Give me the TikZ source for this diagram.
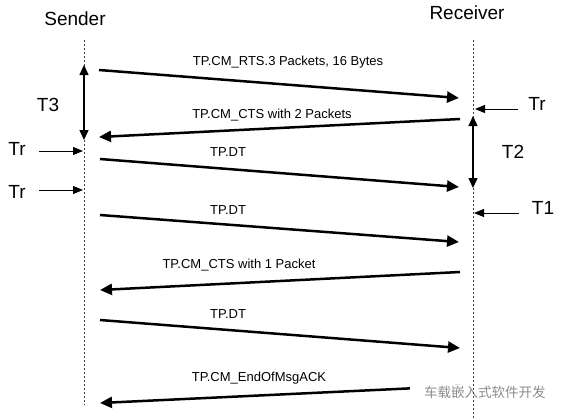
\documentclass[tikz,border=0pt]{standalone}
\usepackage{fontspec}
\setmainfont{Liberation Sans}
\newfontfamily\cjk{Noto Sans CJK SC}
\usetikzlibrary{arrows.meta}
\begin{document}
\begin{tikzpicture}[x=1pt,y=-1pt,
 msg/.style={line width=2.5pt,-{Triangle[length=12pt,width=11pt]}},
 tarrow/.style={line width=1pt,-{Triangle[length=10pt,width=8pt]}},
 dbl/.style={line width=1.3pt,{Triangle[length=10pt,width=9pt]}-{Triangle[length=10pt,width=9pt]}},
 life/.style={line width=0.8pt,dash pattern=on 2pt off 2pt,black!75},
 lbl/.style={font=\fontsize{13}{15}\selectfont,inner sep=0pt},
 big/.style={font=\fontsize{19}{22}\selectfont,inner sep=0pt},
 wm/.style={font=\cjk\fontsize{13.5}{15}\selectfont,text=black!45,fill=white,inner sep=1pt}]
\useasboundingbox (0,0) rectangle (563,418);
% headings
\node[big] (sender) at (75,19) {Sender};
\node[big] (receiver) at (467,13) {Receiver};
% lifeline coordinates
\coordinate (sTop) at (84,40);
\coordinate (sBot) at (84,405);
\coordinate (rTop) at (473,40);
\coordinate (rBot) at (473,418);
% message endpoints
\coordinate (m1a) at (99,70);  \coordinate (m1b) at (459,98);
\coordinate (m2a) at (460,119); \coordinate (m2b) at (99,137);
\coordinate (m3a) at (100,159); \coordinate (m3b) at (459,187);
\coordinate (m4a) at (100,215); \coordinate (m4b) at (459,242);
\coordinate (m5a) at (460,272); \coordinate (m5b) at (100,290);
\coordinate (m6a) at (100,320); \coordinate (m6b) at (460,348);
\coordinate (m7a) at (460,386); \coordinate (m7b) at (100,403);
\draw[msg] (m1a) -- (m1b);
\draw[msg] (m2a) -- (m2b);
\draw[msg] (m3a) -- (m3b);
\draw[msg] (m4a) -- (m4b);
\draw[msg] (m5a) -- (m5b);
\draw[msg] (m6a) -- (m6b);
\draw[msg] (m7a) -- (m7b);
\node[lbl] (l1) at (288,62) {TP.CM\_RTS.3 Packets, 16 Bytes};
\node[lbl] (l2) at (272,115) {TP.CM\_CTS with 2 Packets};
\node[lbl] (l3) at (228,152) {TP.DT};
\node[lbl] (l4) at (228,210) {TP.DT};
\node[lbl] (l5) at (239,265) {TP.CM\_CTS with 1 Packet};
\node[lbl] (l6) at (228,314) {TP.DT};
\node[lbl] (l7) at (259,378) {TP.CM\_EndOfMsgACK};
% watermark
\node[wm] (wmark) at (478,392) {\phantom{车}车载嵌入式软件开发};
% lifelines
\draw[life] (sTop) -- (sBot);
\draw[life] (rTop) -- (rBot);
% timers
\coordinate (t3a) at (84,65); \coordinate (t3b) at (84,140);
\draw[dbl] (t3a) -- (t3b);
\node[big] (T3) at (48,105) {T3};
\coordinate (t2a) at (473,116); \coordinate (t2b) at (473,188);
\draw[dbl] (t2a) -- (t2b);
\node[big] (T2) at (513,152) {T2};
\coordinate (tr1a) at (518,109); \coordinate (tr1b) at (475,109);
\draw[tarrow] (tr1a) -- (tr1b);
\node[big] (Tr1) at (537,104) {Tr};
\coordinate (tr2a) at (39,151); \coordinate (tr2b) at (83,151);
\draw[tarrow] (tr2a) -- (tr2b);
\node[big] (Tr2) at (17,149) {Tr};
\coordinate (tr3a) at (39,190); \coordinate (tr3b) at (83,190);
\draw[tarrow] (tr3a) -- (tr3b);
\node[big] (Tr3) at (17,192) {Tr};
\coordinate (t1a) at (519,213); \coordinate (t1b) at (474,213);
\draw[tarrow] (t1a) -- (t1b);
\node[big] (T1) at (543,208) {T1};
\end{tikzpicture}
\end{document}
